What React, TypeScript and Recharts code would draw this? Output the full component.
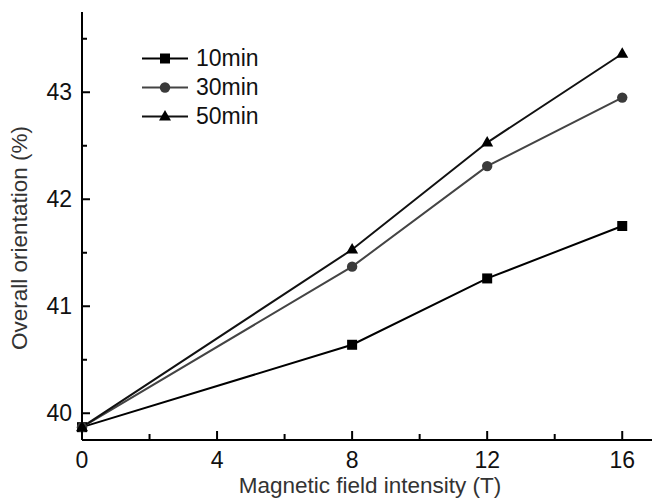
import { LineChart, Line, XAxis, YAxis, Legend, Label } from "recharts";

const fieldT = [0, 8, 12, 16];
const min10 = [39.87, 40.64, 41.26, 41.75];
const min30 = [39.87, 41.37, 42.31, 42.95];
const min50 = [39.87, 41.53, 42.53, 43.36];

const xTicks = [0, 2, 4, 6, 8, 10, 12, 14, 16];
const yTicks = [40, 40.5, 41, 41.5, 42, 42.5, 43, 43.5];

const seriesNames = ["10min", "30min", "50min"];

const data = fieldT.map((t, i) => ({
  t,
  m10: min10[i],
  m30: min30[i],
  m50: min50[i]
}));

const FONT = "'Liberation Sans', Arial, sans-serif";

function SquareDot(props: any) {
  const { cx, cy } = props;
  if (cx == null || cy == null) return null;
  return <rect x={cx - 5} y={cy - 5} width={10} height={10} fill="#000" />;
}

function CircleDot(props: any) {
  const { cx, cy } = props;
  if (cx == null || cy == null) return null;
  return <circle cx={cx} cy={cy} r={5.2} fill="#3a3a3a" />;
}

function TriangleDot(props: any) {
  const { cx, cy } = props;
  if (cx == null || cy == null) return null;
  return (
    <polygon
      points={`${cx},${cy - 6.5} ${cx + 6},${cy + 4} ${cx - 6},${cy + 4}`}
      fill="#000"
    />
  );
}

function XTick(props: any) {
  const { x, y, payload } = props;
  const major = payload.value % 4 === 0;
  return (
    <g>
      <line x1={x} x2={x} y1={y} y2={y - (major ? 9 : 6)} stroke="#000" strokeWidth={2} />
      {major && (
        <text x={x} y={y + 28} textAnchor="middle" fontSize={23} fontFamily={FONT} fill="#111">
          {payload.value}
        </text>
      )}
    </g>
  );
}

function YTick(props: any) {
  const { x, y, payload } = props;
  const major = Number.isInteger(payload.value);
  return (
    <g>
      <line x1={x} x2={x + (major ? 8 : 5)} y1={y} y2={y} stroke="#000" strokeWidth={2} />
      {major && (
        <text x={x - 10} y={y + 8} textAnchor="end" fontSize={23} fontFamily={FONT} fill="#111">
          {payload.value}
        </text>
      )}
    </g>
  );
}

function LegendBox() {
  const markers = [
    <rect key="s" x={19} y={9.5} width={10} height={10} fill="#000" />,
    <circle key="c" cx={24} cy={14.5} r={5.2} fill="#3a3a3a" />,
    <polygon key="t" points="24,8 30,18.5 18,18.5" fill="#000" />
  ];
  const strokes = ["#000", "#444", "#111"];
  return (
    <div style={{ fontFamily: FONT }}>
      {seriesNames.map((name, i) => (
        <div key={name} style={{ display: "flex", alignItems: "center", height: 29 }}>
          <svg width={48} height={29}>
            <line x1={1} x2={47} y1={14.5} y2={14.5} stroke={strokes[i]} strokeWidth={2} />
            {markers[i]}
          </svg>
          <span style={{ marginLeft: 7, fontSize: 23, color: "#111" }}>{name}</span>
        </div>
      ))}
    </div>
  );
}

export default function App() {
  return (
    <div
      style={{
        position: "absolute",
        left: 0,
        top: 0,
        width: 652,
        height: 498,
        overflow: "hidden",
        background: "#fff"
      }}
    >
      <LineChart
        width={660}
        height={498}
        data={data}
        margin={{ top: 12, right: 4, bottom: 0, left: 0 }}
      >
        <XAxis
          dataKey="t"
          type="number"
          domain={[0, 17]}
          ticks={xTicks}
          interval={0}
          height={58}
          tickSize={0}
          tickMargin={0}
          tickLine={false}
          axisLine={{ stroke: "#000", strokeWidth: 2 }}
          tick={<XTick />}
        >
          <Label
            content={() => (
              <text x={370} y={493} textAnchor="middle" fontSize={22.5} fontFamily={FONT} fill="#333">
                Magnetic field intensity (T)
              </text>
            )}
          />
        </XAxis>
        <XAxis
          xAxisId="top"
          dataKey="t"
          type="number"
          domain={[0, 17]}
          orientation="top"
          height={0}
          tick={false}
          tickLine={false}
          axisLine={{ stroke: "#000", strokeWidth: 2 }}
        />
        <YAxis
          type="number"
          domain={[39.75, 43.75]}
          ticks={yTicks}
          interval={0}
          width={82}
          tickSize={0}
          tickMargin={0}
          tickLine={false}
          axisLine={{ stroke: "#000", strokeWidth: 2 }}
          tick={<YTick />}
          allowDataOverflow
        >
          <Label
            content={() => (
              <text
                x={27}
                y={238}
                transform="rotate(-90 27 238)"
                textAnchor="middle"
                fontSize={22.5}
                fontFamily={FONT}
                fill="#333"
              >
                Overall orientation (%)
              </text>
            )}
          />
        </YAxis>
        <Legend
          layout="vertical"
          align="center"
          verticalAlign="middle"
          content={<LegendBox />}
          wrapperStyle={{ left: 141, top: 44, width: 160, height: 90 }}
        />
        <Line
          dataKey="m10"
          name={seriesNames[0]}
          stroke="#000"
          strokeWidth={2}
          dot={<SquareDot />}
          isAnimationActive={false}
        />
        <Line
          dataKey="m30"
          name={seriesNames[1]}
          stroke="#444"
          strokeWidth={2}
          dot={<CircleDot />}
          isAnimationActive={false}
        />
        <Line
          dataKey="m50"
          name={seriesNames[2]}
          stroke="#111"
          strokeWidth={2}
          dot={<TriangleDot />}
          isAnimationActive={false}
        />
      </LineChart>
    </div>
  );
}
